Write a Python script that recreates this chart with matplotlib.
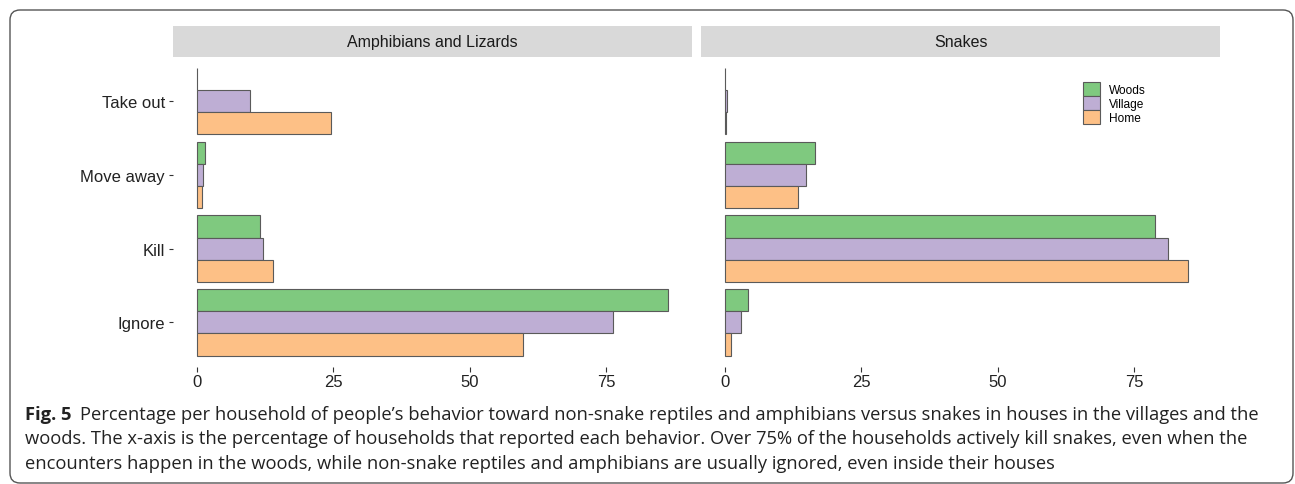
import matplotlib
matplotlib.use("Agg")
import matplotlib.pyplot as plt
import numpy as np
from matplotlib.patches import FancyBboxPatch

# behaviours, bottom to top
behaviours = ["Ignore", "Kill", "Move away", "Take out"]
groups = ["Woods", "Village", "Home"]
colors = ["#7fc97f", "#beaed4", "#fdc086"]

# percent of households, same order as behaviours
amphib_woods = [86.4, 11.5, 1.4, 0.0]
amphib_village = [76.3, 12.1, 1.15, 9.7]
amphib_home = [59.7, 14.0, 1.0, 24.5]

snake_woods = [4.3, 78.8, 16.5, 0.0]
snake_village = [2.9, 81.2, 14.9, 0.3]
snake_home = [1.1, 84.8, 13.3, 0.2]

panels = ["Amphibians and Lizards", "Snakes"]
xticks = [0, 25, 50, 75]

caption_bold = "Fig. 5"
caption_lines = [
    "Percentage per household of people\u2019s behavior toward non-snake reptiles and amphibians versus snakes in houses in the villages and the",
    "woods. The x-axis is the percentage of households that reported each behavior. Over 75% of the households actively kill snakes, even when the",
    "encounters happen in the woods, while non-snake reptiles and amphibians are usually ignored, even inside their houses",
]

W, H = 1295, 485
EDGE = "#5a5a5a"
AXFONT = "Liberation Sans"
plt.rcParams["font.family"] = [AXFONT, "DejaVu Sans"]


def px_rect(x0, y0, x1, y1):
    # pixel box (top-left origin) -> figure fraction rect
    return [x0 / W, 1 - y1 / H, (x1 - x0) / W, (y1 - y0) / H]


def draw_panel(fig, rect, strip_rect, title, series, show_y):
    ax = fig.add_axes(rect)
    y = np.arange(1, len(behaviours) + 1)
    bars = []
    for k, vals in enumerate(series):
        off = 0.3 * (1 - k)
        bars.append(ax.barh(y + off, vals, height=0.3, color=colors[k],
                            edgecolor=EDGE, linewidth=0.8, label=groups[k]))
    ax.set_xlim(-4.32, 90.72)
    ax.set_ylim(0.4, 4.6)
    ax.set_xticks(xticks)
    ax.set_xticklabels([str(t) for t in xticks], fontsize=12, color="#222222")
    ax.set_yticks(y)
    if show_y:
        ax.set_yticklabels(behaviours, fontsize=12, color="#222222")
        ax.tick_params(axis="y", length=3, width=0.8, color="#333333", pad=3)
    else:
        ax.set_yticklabels([])
        ax.tick_params(axis="y", length=0)
    ax.tick_params(axis="x", length=3.5, width=0.8, color="#333333", pad=2)
    for s in ax.spines.values():
        s.set_visible(False)

    sax = fig.add_axes(strip_rect)
    sax.set_facecolor("#d9d9d9")
    sax.set_xticks([])
    sax.set_yticks([])
    for s in sax.spines.values():
        s.set_visible(False)
    sax.text(0.5, 0.5, title, ha="center", va="center",
             fontsize=11.5, color="#1a1a1a", transform=sax.transAxes)
    return ax, bars


fig = plt.figure(figsize=(W / 100, H / 100), dpi=100)

frame = FancyBboxPatch((0.10, 0.01), 12.83, 4.73,
                       boxstyle="round,pad=0,rounding_size=0.1",
                       transform=fig.dpi_scale_trans, facecolor="none",
                       edgecolor="#555555", linewidth=1.0)
fig.patches.append(frame)

ax1, _ = draw_panel(fig, px_rect(173.4, 57.7, 691.9, 367.7), px_rect(173.4, 27, 691.9, 57.7),
                    panels[0], [amphib_woods, amphib_village, amphib_home], True)
ax2, bars = draw_panel(fig, px_rect(701.4, 57.7, 1219.9, 367.7), px_rect(701.4, 27, 1219.9, 57.7),
                       panels[1], [snake_woods, snake_village, snake_home], False)

fig.legend(handles=bars, labels=groups, loc="upper left",
           bbox_to_anchor=(1082.7 / W, 1 - 82.7 / H), frameon=False,
           prop={"size": 8.6}, handlelength=1.42,
           handleheight=1.42, labelspacing=0.0, handletextpad=0.8,
           borderpad=0.0, borderaxespad=0.0)

# caption
renderer = fig.canvas.get_renderer()
cap_font = ["Open Sans", "DejaVu Sans"]
cap_size = 13.2
base = [1 - 420 / H, 1 - 444.5 / H, 1 - 469 / H]
tb = fig.text(25 / W, base[0], caption_bold, fontfamily=cap_font, fontweight="bold",
              fontsize=cap_size, color="#222222", va="baseline")
bb = tb.get_window_extent(renderer)
fig.text((bb.x1 + 9) / W, base[0], caption_lines[0], fontfamily=cap_font,
         fontsize=cap_size, color="#222222", va="baseline")
for line, yb in zip(caption_lines[1:], base[1:]):
    fig.text(25 / W, yb, line, fontfamily=cap_font, fontsize=cap_size,
             color="#222222", va="baseline")

fig.savefig("out.png", dpi=100)
